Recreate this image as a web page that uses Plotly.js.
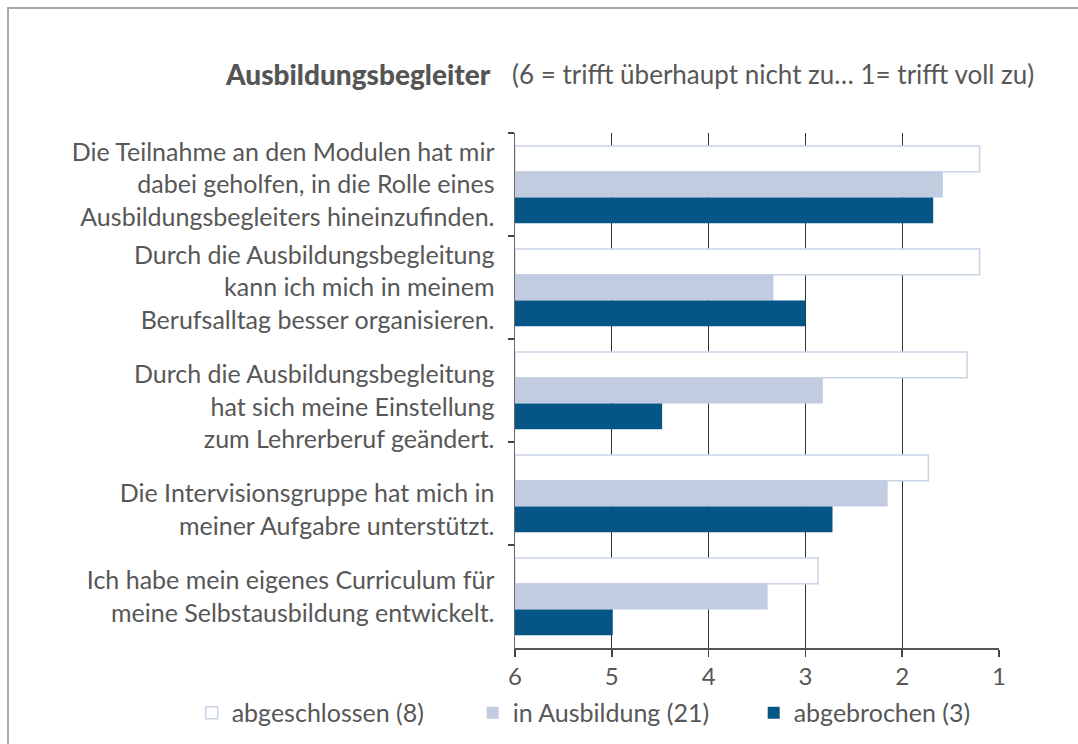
<!DOCTYPE html>
<html>
<head>
<meta charset="utf-8">
<script src="https://cdn.plot.ly/plotly-3.0.1.min.js"></script>
<style>
  html, body { margin: 0; padding: 0; background: #fff; }
  #chart { position: absolute; left: 0; top: 0; width: 1078px; height: 744px; }
  #frame { position: absolute; left: 7px; top: 7px; width: 1100px; height: 800px;
           border-left: 2px solid #a4abab; border-top: 2px solid #a4abab; pointer-events: none; }
</style>
</head>
<body>
<div id="chart"></div>
<div id="frame"></div>
<script>
// ---- data ----
const categories = [
  "Die Teilnahme an den Modulen hat mir<br>dabei geholfen, in die Rolle eines<br>Ausbildungsbegleiters hineinzufinden.",
  "Durch die Ausbildungsbegleitung<br>kann ich mich in meinem<br>Berufsalltag besser organisieren.",
  " <br>Durch die Ausbildungsbegleitung<br>hat sich meine Einstellung<br>zum Lehrerberuf geändert.",
  " <br>Die Intervisionsgruppe hat mich in<br>meiner Aufgabre unterstützt.",
  "Ich habe mein eigenes Curriculum für<br>meine Selbstausbildung entwickelt."
];
const seriesNames = ["abgeschlossen (8)", "in Ausbildung (21)", "abgebrochen (3)"];
const abgeschlossen = [1.20, 1.20, 1.33, 1.73, 2.87];
const inAusbildung  = [1.58, 3.33, 2.82, 2.15, 3.39];
const abgebrochen   = [1.68, 3.00, 4.48, 2.72, 4.99];
const scaleTicks = [6, 5, 4, 3, 2, 1];
const scaleStart = 6;

const titleMain = "Ausbildungsbegleiter";
const titleSub = "(6 = trifft überhaupt nicht zu… 1= trifft voll zu)";

// ---- chart ----
const font = "Lato, 'Open Sans', sans-serif";
const txt = "#575757";

function barTrace(name, vals, fill, lineColor, lineWidth) {
  return {
    type: "bar", orientation: "h", name: name,
    y: categories,
    x: vals.map(v => v - scaleStart),
    base: scaleStart,
    marker: { color: fill, line: { color: lineColor, width: lineWidth } },
    hoverinfo: "skip"
  };
}

const data = [
  barTrace(seriesNames[0], abgeschlossen, "#ffffff", "#c9d3e6", 1.5),
  barTrace(seriesNames[1], inAusbildung, "#c1cce0", "#c1cce0", 0),
  barTrace(seriesNames[2], abgebrochen, "#055587", "#055587", 0)
];

const layout = {
  width: 1078, height: 744,
  margin: { l: 515, r: 79, t: 133, b: 96, pad: 0, autoexpand: false },
  paper_bgcolor: "#ffffff", plot_bgcolor: "#ffffff",
  barmode: "group", bargap: 0.25, bargroupgap: 0,
  font: { family: font, color: txt, size: 24 },
  showlegend: true,
  legend: {
    orientation: "h", x: -0.668, xanchor: "left", y: -0.126, yanchor: "middle",
    bgcolor: "rgba(0,0,0,0)",
    font: { family: font, size: 25, color: txt },
    itemwidth: 30, traceorder: "normal", entrywidth: 236
  },
  xaxis: {
    range: [6, 1], tickvals: scaleTicks, ticktext: scaleTicks.map(String),
    showgrid: true, gridcolor: "#333333", gridwidth: 1,
    zeroline: false, showline: true, linecolor: "#555555", linewidth: 1.5,
    ticks: "outside", ticklen: 7, tickcolor: "#444444", tickwidth: 1.5,
    tickfont: { family: font, size: 24, color: txt },
    ticklabelstandoff: 0, fixedrange: true
  },
  yaxis: {
    type: "category", categoryorder: "array", categoryarray: categories,
    autorange: "reversed",
    showgrid: false, zeroline: false,
    showline: true, linecolor: "#6b6b6b", linewidth: 1.5,
    ticks: "outside", tickson: "boundaries", ticklen: 6, tickcolor: "#444444", tickwidth: 1.5,
    tickfont: { family: font, size: 25, color: txt },
    ticklabelstandoff: 14, fixedrange: true
  },
  annotations: [
    { xref: "paper", yref: "paper", x: -0.045, y: 1.115, xanchor: "right", yanchor: "middle",
      text: titleMain, showarrow: false,
      font: { family: font, size: 28, weight: 900, color: "#555555" } },
    { xref: "paper", yref: "paper", x: -0.01, y: 1.115, xanchor: "left", yanchor: "middle",
      text: titleSub, showarrow: false,
      font: { family: font, size: 26, color: txt } }
  ]
};

Plotly.newPlot("chart", data, layout, { displayModeBar: false, staticPlot: true });
</script>
</body>
</html>
